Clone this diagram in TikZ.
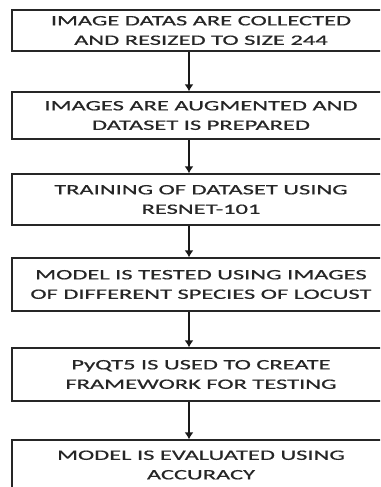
\documentclass[tikz,border=0pt]{standalone}
\usepackage{fontspec}
\usetikzlibrary{arrows.meta}
\newfontfamily\widefont[FakeStretch=1.7,FakeBold=0.6]{Carlito}
\begin{document}
\begin{tikzpicture}[x=1pt,y=1pt,
  stepbox/.style={draw=black!85, line width=1.3pt, rectangle, minimum width=378pt,
    align=center, inner sep=0pt, font=\widefont\fontsize{14.4}{19.5}\selectfont, text=black!85},
  flow/.style={line width=1.8pt, draw=black!90, -{Latex[length=7pt,width=9pt]}}]
\useasboundingbox (0,0) rectangle (380,-487);
\clip (0,0) rectangle (380,-487);
\fill[white] (0,0) rectangle (380,-487);
\node[stepbox, minimum height=41pt] (b1) at (201,-30.5) {IMAGE DATAS ARE COLLECTED\\AND RESIZED TO SIZE 244};
\node[stepbox, minimum height=47pt] (b2) at (201,-115.5) {IMAGES ARE AUGMENTED AND\\DATASET IS PREPARED};
\node[stepbox, minimum height=51pt] (b3) at (201,-199.5) {TRAINING OF DATASET USING\\RESNET-101};
\node[stepbox, minimum height=53pt] (b4) at (201,-284.5) {MODEL IS TESTED USING IMAGES\\OF DIFFERENT SPECIES OF LOCUST};
\node[stepbox, minimum height=53pt] (b5) at (201,-374.5) {PyQT5 IS USED TO CREATE\\FRAMEWORK FOR TESTING};
\node[stepbox, minimum height=50pt] (b6) at (201,-465) {MODEL IS EVALUATED USING\\ACCURACY};
\coordinate (ax) at (189,0);
\draw[flow] (b1.south -| ax) -- (b2.north -| ax);
\draw[flow] (b2.south -| ax) -- (b3.north -| ax);
\draw[flow] (b3.south -| ax) -- (b4.north -| ax);
\draw[flow] (b4.south -| ax) -- (b5.north -| ax);
\draw[flow] (b5.south -| ax) -- (b6.north -| ax);
\end{tikzpicture}
\end{document}
